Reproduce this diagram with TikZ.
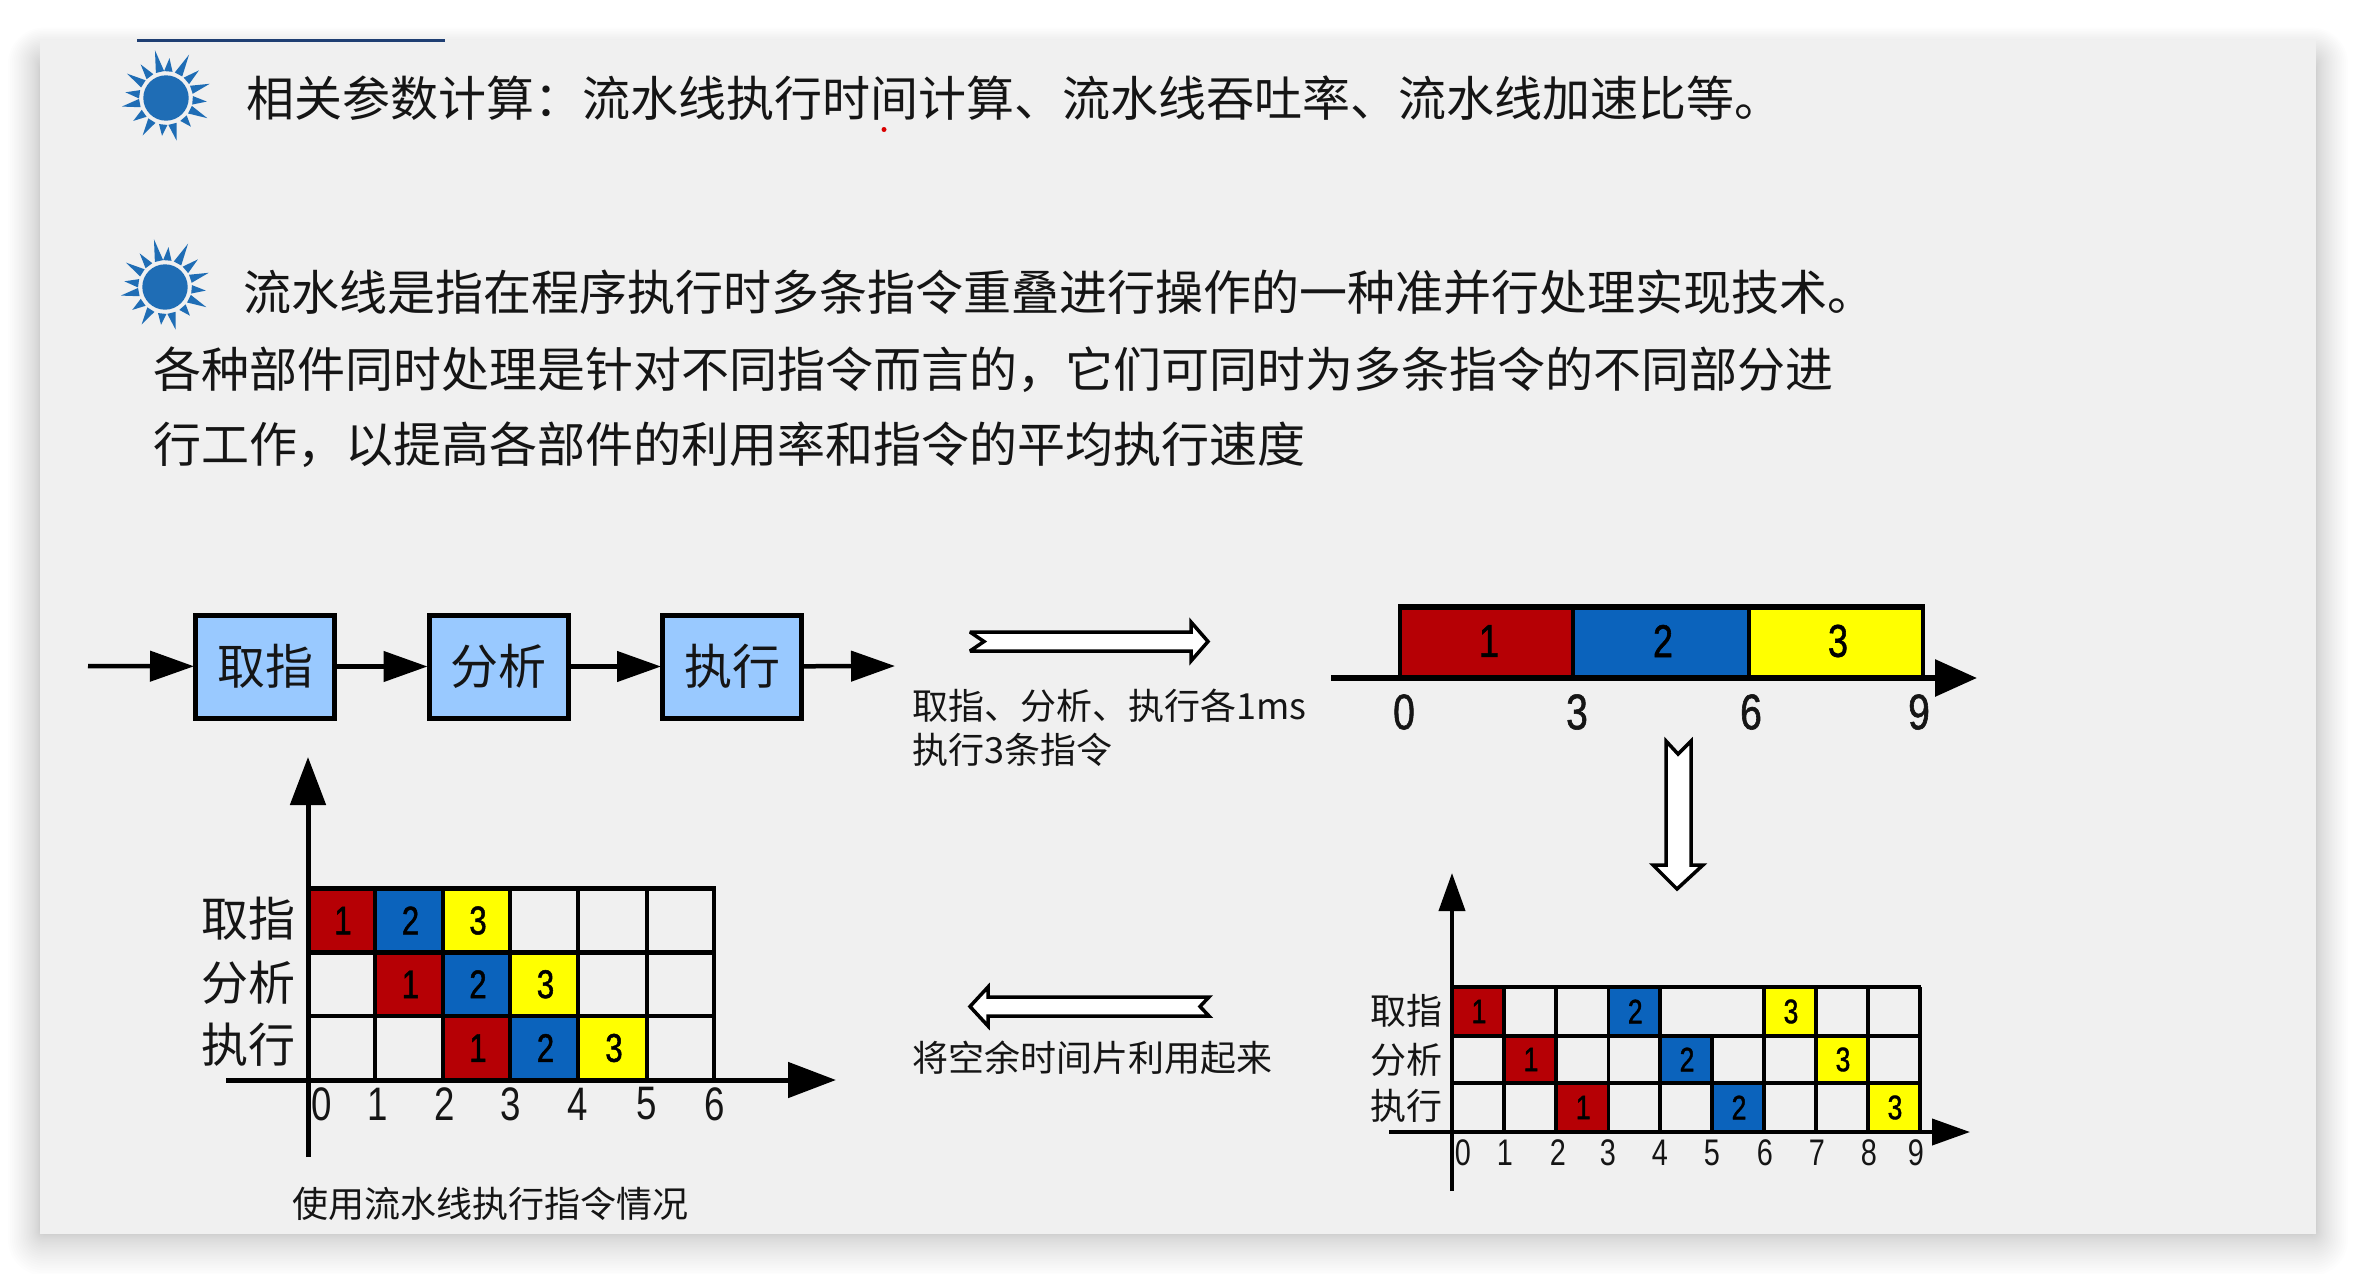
\documentclass[tikz,border=0pt]{standalone}
\usepackage{fontspec}
\usetikzlibrary{arrows.meta}
\setmainfont{Noto Sans CJK SC}
\newfontfamily\narrowd[FakeStretch=0.78]{Liberation Sans}
\newfontfamily\narrowb[FakeStretch=0.78,FakeBold=1.2]{Liberation Sans}
\newcommand{\fsz}[1]{\fontsize{#1}{#1}\selectfont}
\definecolor{panel}{HTML}{F0F0F0}
\definecolor{cellred}{HTML}{B60005}
\definecolor{cellblue}{HTML}{0B63BC}
\definecolor{cellyel}{HTML}{FFFF00}
\definecolor{boxblue}{HTML}{99C9FF}
\definecolor{ink}{HTML}{151515}
\definecolor{sunblue}{HTML}{1F6DB5}
\definecolor{topline}{HTML}{1F3F73}
\tikzset{
  x=1pt,y=-1pt,
  bodytext/.style={anchor=west,inner sep=0pt,text=ink,font=\fsz{48}},
  smalltext/.style={anchor=west,inner sep=0pt,text=ink,font=\fsz{36}},
  stagebox/.style={draw=black,line width=5pt,fill=boxblue,minimum width=139pt,minimum height=103pt,inner sep=0pt,text=ink,font=\fsz{48}},
  flow/.style={line width=4.5pt,-{Triangle[length=44pt,width=30pt]},shorten >=-1pt},
  axisA/.style={line width=5pt,-{Triangle[length=48pt,width=35pt]}},
  axisB/.style={line width=4pt,-{Triangle[length=38pt,width=26pt]}},
  gridline/.style={line width=4.5pt,draw=black},
  gridlineB/.style={line width=3.2pt,draw=black},
  hollow/.style={draw=black,fill=white,line width=3.5pt,line join=miter,miter limit=3},
  rowA/.style={inner sep=0pt,text=ink,font=\fsz{47}},
  rowB/.style={inner sep=0pt,text=ink,font=\fsz{36}},
  tickA/.style={inner sep=0pt,text=ink,font=\narrowd\fsz{47}},
  tickB/.style={inner sep=0pt,text=ink,font=\narrowd\fsz{37}},
  tickC/.style={inner sep=0pt,text=ink,font=\narrowb\fsz{50}},
  barnum/.style={inner sep=0pt,text=black,font=\narrowb\fsz{46}},
  cellnumA/.style={inner sep=0pt,text=black,font=\narrowb\fsz{40}},
  cellnumB/.style={inner sep=0pt,text=black,font=\narrowb\fsz{34}},
  sun/.pic={
    \foreach \a/\r in {76/44,96/38,122/44,145/40,169/45,188/41,212/46,233/42,257/49,275/40,298/49,320/43,342/46,5/41,26/46,49/38}{
      \fill[sunblue] ({\a-9}:27) -- (\a:\r) -- ({\a+9}:27) -- cycle;
    }
    \fill[sunblue] (0,0) circle (22.7);
  },
}
\begin{document}
\begin{tikzpicture}
\useasboundingbox (0,0) rectangle (2356,1274);
\fill[white] (0,0) rectangle (2356,1274);
% soft shadow of the slide
\foreach \i in {1,...,24}{
  \pgfmathsetmacro{\dd}{32*pow(\i/24,1.5)}
  \pgfmathsetmacro{\rc}{4+\dd}
  \fill[black,opacity=.008,rounded corners=\rc pt] ({40-\dd},{66-1.6*\i}) rectangle ({2316+\dd},{1234+1.3*\dd});
}
\fill[panel] (40,40) rectangle (2316,1234);
\draw[topline,line width=2.5pt] (137,40.5) -- (445,40.5);

% header texts
\pic at (166,98) {sun};
\pic at (165,287) {sun};
\node[bodytext] (t1) at (246,98) {相关参数计算：流水线执行时间计算、流水线吞吐率、流水线加速比等。};
\node[bodytext] (t2) at (243,292) {流水线是指在程序执行时多条指令重叠进行操作的一种准并行处理实现技术。};
\node[bodytext] (t3) at (153,369.5) {各种部件同时处理是针对不同指令而言的，它们可同时为多条指令的不同部分进};
\node[bodytext] (t4) at (153,444.5) {行工作，以提高各部件的利用率和指令的平均执行速度};
\fill[red!85!black] (884,129.5) circle (2.5);

% stage chain
\coordinate (in) at (88,666);
\coordinate (out) at (894,666);
\node[stagebox] (s1) at (265,666.5) {取指};
\node[stagebox] (s2) at (498.5,666.5) {分析};
\node[stagebox] (s3) at (732,666.5) {执行};
\draw[flow] (in) -- (s1);
\draw[flow] (s1) -- (s2);
\draw[flow] (s2) -- (s3);
\draw[flow] (s3) -- (out);

% hollow arrows
\draw[hollow] (970,632) -- (1191,632) -- (1191,622) -- (1208,641.5) -- (1191,661) -- (1191,651) -- (970,651) -- (984,641.5) -- cycle;
\draw[hollow] (1666,741) -- (1678,754) -- (1691,741) -- (1691,865) -- (1703,865) -- (1677,889) -- (1653,865) -- (1666,865) -- cycle;
\draw[hollow] (1209,997) -- (988,997) -- (988,987) -- (970,1006.5) -- (988,1026) -- (988,1016) -- (1209,1016) -- (1200,1006.5) -- cycle;

\node[smalltext] (n1) at (912,706) {取指、分析、执行各1ms};
\node[smalltext] (n2) at (912,750) {执行3条指令};
\node[smalltext] (n3) at (912,1057.5) {将空余时间片利用起来};
\node[smalltext,anchor=center] (n4) at (490,1204) {使用流水线执行指令情况};

% serial bar
\fill[cellred] (1400,607) rectangle (1573,678);
\fill[cellblue] (1573,607) rectangle (1749,678);
\fill[cellyel] (1749,607) rectangle (1923,678);
\draw[line width=4pt] (1400,678) -- (1400,607) (1573,607) -- (1573,678) (1749,607) -- (1749,678) (1923,678) -- (1923,607);
\draw[line width=6.5pt] (1398,607) -- (1925,607);
\coordinate (bar0) at (1331,678);
\coordinate (bar1) at (1977,678);
\draw[line width=6pt,-{Triangle[length=42pt,width=36pt]}] (bar0) -- (bar1);
\node[barnum] (bd1) at (1489,641) {1};
\node[barnum] (bd2) at (1663,641) {2};
\node[barnum] (bd3) at (1838,641) {3};
\foreach \n/\x in {0/1404,3/1577,6/1751,9/1919}{
  \node[tickC] (bt\n) at (\x,712) {\n};
}

% chart A (with pipeline)
\foreach \xa/\xb/\ya/\yb/\col/\d [count=\k] in {
  308/375/888.5/952.5/cellred/1, 375/443/888.5/952.5/cellblue/2, 443/510/888.5/952.5/cellyel/3,
  375/443/952.5/1016/cellred/1, 443/510/952.5/1016/cellblue/2, 510/578/952.5/1016/cellyel/3,
  443/510/1016/1080/cellred/1, 510/578/1016/1080/cellblue/2, 578/647/1016/1080/cellyel/3}{
  \fill[\col] (\xa,\ya) rectangle (\xb,\yb);
  \node[cellnumA] (ca\k) at ({(\xa+\xb)/2+1.5},{(\ya+\yb)/2}) {\d};
}
\foreach \y in {888.5,952.5,1016}{ \draw[gridline] (306,\y) -- (716,\y); }
\foreach \x in {375,443,510,578,647,714}{ \draw[gridline] (\x,888.5) -- (\x,1080); }
\coordinate (ay0) at (308,1157);
\coordinate (ay1) at (308,757);
\coordinate (ax0) at (226,1080);
\coordinate (ax1) at (836,1080);
\draw[axisA] (ay0) -- (ay1);
\draw[axisA] (ax0) -- (ax1);
\node[rowA] (ra1) at (248,919) {取指};
\node[rowA] (ra2) at (248,983) {分析};
\node[rowA] (ra3) at (248,1045) {执行};
\foreach \n/\x in {0/322,1/378,2/445,3/511,4/578,5/647,6/715}{
  \node[tickA] (ta\n) at (\x,1104) {\n};
}

% chart B (serial)
\foreach \xa/\xb/\ya/\yb/\col/\d [count=\k] in {
  1452/1504/987/1036/cellred/1, 1608.5/1660/987/1036/cellblue/2, 1764/1816/987/1036/cellyel/3,
  1504/1556/1036/1083/cellred/1, 1660/1712/1036/1083/cellblue/2, 1816/1868/1036/1083/cellyel/3,
  1556/1608.5/1083/1132/cellred/1, 1712/1764/1083/1132/cellblue/2, 1868/1920/1083/1132/cellyel/3}{
  \fill[\col] (\xa,\ya) rectangle (\xb,\yb);
  \node[cellnumB] (cb\k) at ({(\xa+\xb)/2+1},{(\ya+\yb)/2}) {\d};
}
\foreach \y in {987,1036,1083}{ \draw[gridlineB] (1451,\y) -- (1921,\y); }
\foreach \x in {1504,1556,1608.5,1660,1764,1816,1868,1920}{ \draw[gridlineB] (\x,987) -- (\x,1132); }
\draw[gridlineB] (1712,1036) -- (1712,1132);
\coordinate (by0) at (1452,1191);
\coordinate (by1) at (1452,873);
\coordinate (bx0) at (1389,1132);
\coordinate (bx1) at (1970,1132);
\draw[axisB] (by0) -- (by1);
\draw[axisB] (bx0) -- (bx1);
\node[rowB] (rb1) at (1406.5,1011) {取指};
\node[rowB] (rb2) at (1406.5,1060) {分析};
\node[rowB] (rb3) at (1406.5,1106) {执行};
\foreach \n/\x in {0/1463,1/1505,2/1558,3/1608,4/1660,5/1712,6/1765,7/1817,8/1869,9/1916}{
  \node[tickB] (tb\n) at (\x,1153) {\n};
}
\end{tikzpicture}
\end{document}
